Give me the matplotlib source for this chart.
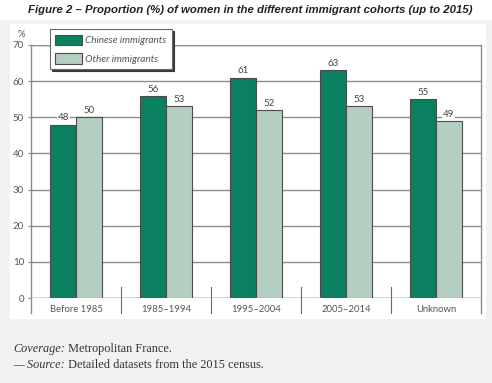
import matplotlib.pyplot as plt
import matplotlib.patches as mpatches
import matplotlib.transforms as mtransforms
from matplotlib import font_manager
import numpy as np

# --- DATA ---
cohorts = ['Before 1985', '1985\u20131994', '1995\u20132004', '2005\u20132014', 'Unknown']
chinese = [48, 56, 61, 63, 55]
other = [50, 53, 52, 53, 49]
series_names = ['Chinese immigrants', 'Other immigrants']
yticks = [0, 10, 20, 30, 40, 50, 60, 70]

# --- STYLE ---
GREEN = '#0b8060'
LIGHT = '#b4cfc1'
EDGE = '#4a4a4a'
GRID = '#8c8c8c'
TXT = '#555555'
PANEL = '#f2f2f2'
W, H = 492, 383

names = {f.name for f in font_manager.fontManager.ttflist}
TITLE_FONT = 'Liberation Sans Narrow' if 'Liberation Sans Narrow' in names else 'Liberation Sans'

fig = plt.figure(figsize=(W / 100, H / 100), dpi=100)
fig.patch.set_facecolor('white')

def px(x0, y0, x1, y1):
    # pixel box (top-left origin) -> figure fraction rect
    return (x0 / W, 1 - y1 / H, (x1 - x0) / W, (y1 - y0) / H)

# grey panel and white chart box
r = px(0, 20, W, H)
fig.patches.append(mpatches.Rectangle(r[:2], r[2], r[3], transform=fig.transFigure,
                                      facecolor=PANEL, edgecolor='none', zorder=-10))
r = px(10, 24, 486, 319)
fig.patches.append(mpatches.Rectangle(r[:2], r[2], r[3], transform=fig.transFigure,
                                      facecolor='white', edgecolor='none', zorder=-9))

ax = fig.add_axes(px(31, 45, 481, 298))
ax.set_facecolor('none')

x = np.arange(len(cohorts))
bw = 0.284
b1 = ax.bar(x - bw / 2, chinese, bw, color=GREEN, edgecolor=EDGE, linewidth=0.8,
            label=series_names[0], zorder=3)
b2 = ax.bar(x + bw / 2, other, bw, color=LIGHT, edgecolor=EDGE, linewidth=0.8,
            label=series_names[1], zorder=3)

for bars, vals in [(b1, chinese), (b2, other)]:
    for b, v in zip(bars, vals):
        ax.annotate(str(v), (b.get_x() + b.get_width() / 2, v), xytext=(0, 1.5),
                    textcoords='offset points', ha='center', va='bottom',
                    fontsize=7, color='#444444', family='Lato', zorder=4,
                    bbox=dict(facecolor='white', edgecolor='none', pad=0.6))

ax.set_xlim(-0.5, len(cohorts) - 0.5)
ax.set_ylim(0, 70)
ax.set_yticks(yticks)
ax.set_yticklabels([str(t) for t in yticks], fontsize=7, color=TXT, family='Lato')
ax.yaxis.grid(True, color=GRID, linewidth=1.0, zorder=1)
ax.set_axisbelow(True)
ax.tick_params(axis='y', length=2, color=GRID, pad=3)

# category labels below axis, no ticks
ax.set_xticks(x)
ax.set_xticklabels(cohorts, fontsize=6.8, color=TXT, family='Lato')
ax.tick_params(axis='x', length=0, pad=5)

for s in ['left', 'right', 'bottom', 'top']:
    ax.spines[s].set_visible(False)

trans = mtransforms.blended_transform_factory(ax.transData, ax.transAxes)
low = -15 / 253
for xv in [-0.5, len(cohorts) - 0.5]:
    ax.plot([xv, xv], [low, 1], transform=trans, color=GRID, lw=1.0, clip_on=False, zorder=2)
for xv in x[:-1] + 0.5:
    ax.plot([xv, xv], [low, 11 / 253], transform=trans, color='#6a6a6a', lw=0.8,
            clip_on=False, zorder=2)
ax.axhline(0, color=GRID, lw=1.0, zorder=2)
ax.axhline(70, color=GRID, lw=1.0, zorder=2)

ax.text(-0.012, 1.025, '%', transform=ax.transAxes, ha='right', va='bottom',
        fontsize=7, color=TXT, family='Lato')

leg = ax.legend(loc='upper left', bbox_to_anchor=(0.042, 1.063), fontsize=7.2,
                frameon=True, fancybox=False,
                shadow={'color': '#3a3a3a', 'alpha': 1, 'ox': 1.5, 'oy': -1.5},
                handlelength=2.7, handleheight=1.3, borderpad=0.55, labelspacing=0.75,
                handletextpad=0.3, borderaxespad=0)
leg.get_frame().set_edgecolor('#6a6a6a')
leg.get_frame().set_linewidth(0.8)
for t in leg.get_texts():
    t.set_color(TXT)
    t.set_style('italic')
    t.set_family('Lato')
leg.set_zorder(5)

# title, shrunk to the width it has in the original (~443 px)
title = fig.text(0.508, 1 - 10 / H,
                 'Figure 2 \u2013 Proportion (%) of women in the different immigrant cohorts (up to 2015)',
                 ha='center', va='center', fontsize=9, fontweight='bold', style='italic',
                 family=TITLE_FONT, color='#222222')
renderer = fig.canvas.get_renderer()
tw = title.get_window_extent(renderer).width
title.set_fontsize(min(9.5, 9 * 443 / tw))

# footnote: italic lead-in followed by upright text
SERIF = dict(fontsize=8.8, family='Liberation Serif', color='#333333')
t1 = fig.text(13 / W, 1 - 352 / H, 'Coverage:', style='italic', va='baseline', **SERIF)
fig.add_artist(plt.Annotation(' Metropolitan France.', xy=(1, 0), xycoords=t1,
                              va='bottom', ha='left', **SERIF))
t2 = fig.text(13 / W, 1 - 368 / H, '\u2014 Source:', style='italic', va='baseline', **SERIF)
fig.add_artist(plt.Annotation(' Detailed datasets from the 2015 census.', xy=(1, 0),
                              xycoords=t2, va='bottom', ha='left', **SERIF))

fig.savefig('out.png', dpi=100)
